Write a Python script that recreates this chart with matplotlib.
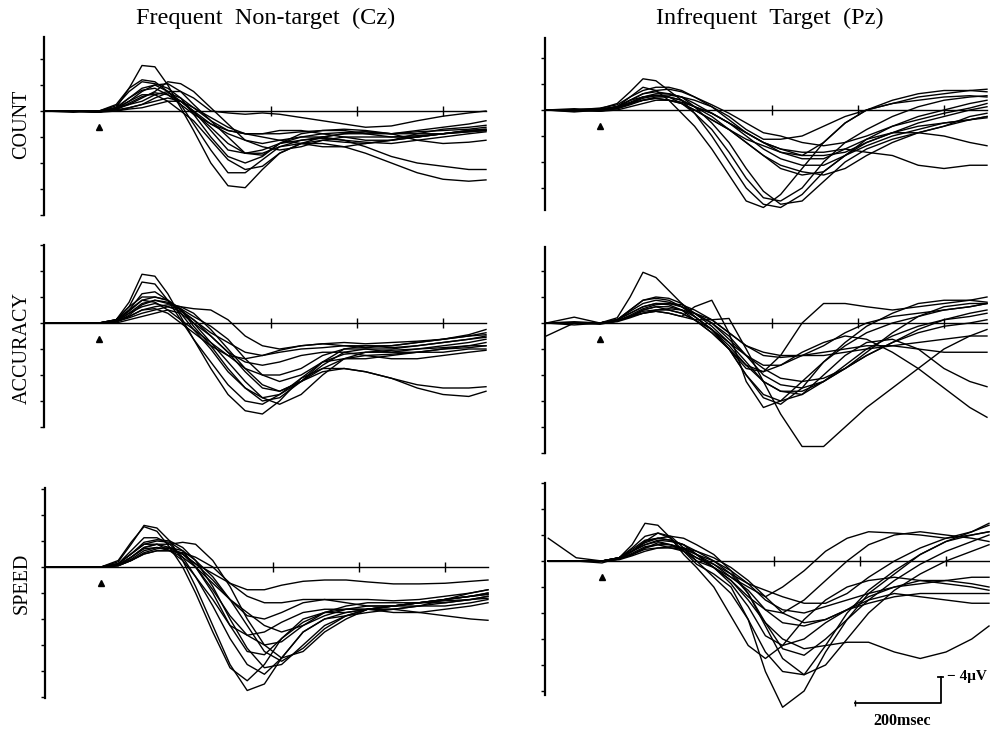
import matplotlib
matplotlib.use("Agg")
import matplotlib.pyplot as plt

W, H = 1001, 729

# sample times (ms from stimulus) shared by every trace
times = [-125, -60, 0, 40, 70, 100, 130, 160, 190, 220, 260, 300,
         340, 380, 420, 470, 520, 570, 620, 680, 740, 800, 860, 900]

# amplitudes in uV, one list per subject (negative is drawn up)
count_cz = [
    [0, 0, 0.2, -0.5, -3.5, -7, -6.8, -4, -0.5, 3, 8, 11.5, 11.8, 9, 6.5, 5, 4.5, 4.8, 5, 4.5, 4, 3.5, 3.2, 3],
    [0, 0, 0, -1, -3.5, -4.8, -4.5, -3, -1, 2, 6, 9.5, 9.5, 7.5, 5.5, 5, 5, 5.5, 6.5, 8, 9.5, 10.5, 10.8, 10.6],
    [0, 0.2, 0, -0.8, -3, -4.5, -4.2, -3.5, -2, 0.5, 4, 7, 8, 7, 5, 4, 4, 4.5, 5.5, 7, 8, 8.5, 9, 9],
    [0, 0, 0.1, -0.5, -2, -3.5, -4, -3, -1.5, 0, 3, 6, 6.5, 6, 5, 4.5, 4, 3.5, 3.5, 4, 4, 3.5, 3, 2.8],
    [0, 0, 0, -0.3, -1.5, -3, -4, -4.2, -3, -1, 1.5, 4, 6.5, 6.8, 5, 3.5, 3, 3, 3.5, 3.5, 3.2, 3, 2.8, 2.5],
    [0, 0, 0.2, -0.5, -1, -2, -3, -4.5, -4.2, -3, -0.5, 2, 4.5, 5.5, 6, 5.5, 4.5, 4, 4, 4, 3.8, 3.5, 3, 2.8],
    [0, 0, 0, -0.3, -1, -1.5, -2.5, -3, -3, -2, 0, 0.3, 0.5, 0.3, 0.5, 1, 1.5, 2, 2.5, 2.3, 1.5, 0.8, 0.3, 0],
    [0, 0, 0.1, -0.2, -0.5, -1, -2, -2.8, -2, -0.5, 1.5, 3, 3.5, 3.5, 3, 3, 3.5, 4, 4.5, 4.5, 4, 3.5, 3.2, 3],
    [0, 0, 0, 0, -0.5, -1, -1.5, -2, -1.5, 0, 2, 3.5, 4.5, 5, 4.5, 4, 3.5, 3.3, 3.2, 3.5, 4.5, 5, 4.8, 4.5],
    [0, 0, 0.2, 0, -0.3, -0.5, -1, -1.5, -1.5, -0.5, 1, 2.5, 3.5, 4, 4.5, 5, 5.5, 5.5, 5, 4.5, 3.5, 2.8, 2.5, 2.2],
    [0, 0, 0, -0.5, -2, -3.2, -3.5, -2.5, -1, 0.5, 2, 3, 3.5, 3.5, 3.5, 3.2, 3, 2.8, 3, 3.5, 3.5, 3.5, 3, 3],
    [0, 0, 0.1, -0.5, -1.5, -2.5, -2.5, -1.5, 0, 1.5, 4.5, 7.5, 9, 8.5, 6.5, 5, 4, 3.5, 3.2, 3.5, 3, 2.5, 2, 1.5],
    [0, 0, 0, -0.2, -1.2, -2.2, -2.8, -2.5, -1.5, 0.2, 2.5, 5, 6.5, 6.5, 5.5, 4.5, 4.2, 4.5, 4.8, 5, 4.5, 4, 3.5, 3.2],
]

count_pz = [
    [0, 0.2, 0, -0.5, -2, -3.5, -3, -1.5, 0.5, 2.5, 6, 10, 14, 15, 13, 9, 5, 2, 0, -1, -2, -2.5, -3, -3.2],
    [0, 0, -0.2, -1, -2.8, -4.8, -4.5, -3, -1.5, 0.5, 4, 8, 12, 14.5, 15, 13, 9.5, 7, 5.5, 4, 3, 2, 1.5, 1],
    [0, 0, 0, -0.5, -1.5, -2.5, -2.8, -2.5, -2, -0.5, 2, 5, 9, 12.5, 14.5, 14, 11, 8, 6, 4.5, 3.5, 2.5, 1, 0.5],
    [0, -0.2, 0, -0.5, -1, -2, -2.2, -2, -1, 0, 1.5, 3, 5, 7, 9, 10, 9.5, 7, 4.5, 2.5, 1, 0, -1, -1.5],
    [0, 0, 0.2, -0.3, -1, -1.5, -2, -2, -1.5, -0.5, 1, 3, 5, 7, 8.5, 9.5, 10, 9, 7, 5, 3.5, 2.5, 1.5, 1],
    [0, 0, 0, -0.5, -1.5, -2, -2.3, -2, -1.5, -0.5, 0.5, 2, 3.5, 5, 6.5, 7.5, 7.5, 6, 4.5, 3.5, 3.5, 4, 5, 5.5],
    [0, 0.3, 0, -0.2, -0.8, -1.5, -1.8, -1.5, -1, 0, 1.5, 3, 4.5, 5.5, 6.5, 7, 5, 2, 0, -1.5, -2.5, -3, -3, -2.8],
    [0, 0, -0.3, -0.8, -2, -3, -3.5, -3.5, -3, -2, -0.5, 1.5, 3.5, 5, 6, 6.5, 6.5, 6, 6.5, 7, 8.5, 9, 8.5, 8.5],
    [0, 0, 0, -0.3, -1, -1.8, -2.2, -2.3, -2, -1.5, -0.5, 1, 3, 4.5, 4.5, 4, 2.5, 1, 0, -1, -1.5, -2, -2.2, -2],
    [0, 0, 0.2, 0, -0.5, -1, -1.5, -1.5, -1.2, -0.5, 0.5, 2, 3.5, 5, 6, 7, 7, 6.5, 5, 3.5, 2, 1, 0, -0.5],
    [0, 0, 0, -0.5, -1.5, -2.5, -3, -3.2, -2.8, -2, -0.8, 0.5, 2, 3.5, 4, 5, 5.5, 5, 4, 2.5, 1.5, 0.5, -0.3, -1],
    [0, 0, 0, -0.2, -1, -1.5, -1.8, -1.5, -1, 0.5, 3, 6.5, 10.5, 13.5, 14, 12, 8, 5, 3, 1, -0.5, -1.5, -2, -2.2],
    [0, 0, -0.2, -0.5, -1.2, -2, -2.5, -2.5, -2, -1, 0.5, 2, 4, 6, 7.5, 8.5, 8.5, 7, 5, 3.5, 2.5, 2, 1.5, 1.2],
]

accuracy_cz = [
    [0, 0, 0, -0.5, -3.2, -7.5, -7.2, -4.5, -1, 2.5, 7, 11, 13.5, 14, 12, 8.5, 6, 5.5, 5.5, 5, 4.5, 4, 3.5, 3],
    [0, 0, 0, -0.5, -2.5, -6.3, -6, -3.5, -0.5, 2.5, 6, 9.5, 12, 12.5, 11, 8.5, 7, 7, 7.5, 8.5, 10, 11, 11.3, 10.5],
    [0, 0, 0, -0.3, -2, -4.5, -4.8, -3.5, -1.5, 1, 4, 7.5, 10, 11.5, 11, 9, 7.5, 7, 7.5, 8.5, 9.5, 10, 10, 9.8],
    [0, 0, 0, -0.5, -2.5, -4, -4, -3.5, -2, 0, 3, 6, 9, 11.5, 12.5, 11, 8, 5.5, 4.5, 4.5, 4, 3.5, 3, 2.5],
    [0, 0, 0, -0.2, -1.5, -3, -3.5, -3, -2.5, -1.5, 1, 4, 7, 9.5, 10.5, 9, 6.5, 4.5, 4, 4, 3.5, 3, 2.5, 2],
    [0, 0, 0, -0.5, -2, -3.5, -3.2, -2, -0.5, 1, 3, 5, 7, 8, 8, 7, 5, 4, 4, 4.5, 4.5, 4, 3.8, 3.5],
    [0, 0, 0, -0.2, -1, -2, -2.5, -2.8, -2.5, -2.2, -2, -0.5, 2, 3.5, 4, 3.5, 3.2, 3, 3.2, 3, 2.8, 2.5, 2, 1.5],
    [0, 0, 0, -0.3, -1.5, -2.5, -3, -2.5, -1.8, -0.5, 1.5, 3, 4.5, 5, 4.5, 4, 3.8, 3.5, 3.5, 3.8, 3.5, 3, 2.5, 2.2],
    [0, 0, 0, -0.2, -0.8, -1.5, -2, -2.5, -2.2, -1, 0.5, 2.5, 5.5, 8, 9, 8, 6, 4.8, 4.5, 4.2, 4, 3.8, 3.5, 3.5],
    [0, 0, 0, 0, -0.5, -1, -1.5, -2, -1.5, 0, 2, 4.5, 7.5, 10, 10.5, 9, 7, 5.5, 5, 4.8, 4.5, 4.5, 4, 4],
    [0, 0, 0, -0.2, -1, -2, -2.2, -1.5, 0, 1.5, 3.5, 5, 5.5, 5, 4.2, 3.5, 3.2, 3.5, 3.8, 3.5, 3, 2.5, 1.8, 1],
    [0, 0, 0, -0.3, -1.8, -3.5, -4, -3.5, -2.2, 0.5, 3.5, 7, 10, 12, 11.5, 9, 6, 4, 3.5, 3.5, 3, 2.5, 2, 1.8],
    [0, 0, 0, -0.2, -1.2, -2.8, -3.5, -3.2, -2, -0.5, 2, 4.5, 6, 6.5, 6, 5, 4.5, 4.5, 5, 5.5, 5.5, 5, 4.5, 4.2],
]

accuracy_pz = [
    [0, 0.3, 0, -0.8, -4, -7.8, -7, -5, -3, -1, 1, 4, 8, 11, 12, 11, 9, 7, 5, 3, 1.5, 0.5, 0, -0.5],
    [0, 0, 0.2, -0.3, -1, -1.5, -1.8, -1.5, -1, -2.5, -3.5, 1.5, 9, 13, 12, 9, 6, 3.5, 1.5, 0, -1, -2, -2.5, -3],
    [0, 0, 0, -0.3, -1, -1.5, -1.8, -1.5, -1, -0.5, -0.5, -0.7, 4, 9, 14, 19, 19, 16, 13, 10, 7, 4, 2, 1],
    [0, 0, 0, -0.5, -2, -3.5, -3.8, -3.5, -2.5, -1, 1, 4, 8, 11.5, 12.5, 10, 6, 3, 0.5, -1.5, -3, -3.5, -3.5, -3.2],
    [0, -0.2, 0, -0.5, -1.5, -2.5, -3, -3, -2.5, -1.5, 0, 2, 5, 8, 9.5, 10, 9, 7, 4.5, 1.5, -1, -2.5, -3, -3],
    [0, 0, 0, -0.3, -1, -2, -2.5, -2, -1.5, -0.5, 1.5, 4, 7, 7.5, 5, 0, -3, -3, -2.5, -2, -2.5, -3, -3.5, -4],
    [0, 0, 0, -0.5, -1.8, -3, -3.5, -3.2, -2.5, -1.5, 0, 2.5, 5, 6.5, 6.5, 5, 3.5, 1.5, 0, -1, -1.5, -2, -2.5, -3],
    [0, 0, 0, -0.5, -1.5, -2.5, -3, -2.8, -2, -0.5, 1.5, 4, 6.5, 7.5, 6.5, 4.5, 3, 2, 2.5, 4.5, 7, 10, 13, 14.5],
    [0, 0, 0, -0.3, -1, -2, -2.5, -2.5, -2, -1, 1, 3.5, 6.5, 9, 10.5, 11, 8, 5, 3, 2.5, 4, 7, 9, 9.8],
    [2, 0, 0, -0.3, -1, -1.8, -2, -2, -1.5, -0.5, 1, 3, 5, 7, 8.5, 9, 8.5, 7, 5, 3, 1, -0.5, -1.5, -2],
    [0, -0.9, 0, -0.2, -0.8, -1.5, -2, -2.2, -2, -1.5, -0.5, 1.5, 3.5, 4.5, 5, 5, 5, 4.5, 4, 3.5, 3, 2.5, 2, 2],
    [0, 0, 0, -0.5, -2, -3.5, -4, -3.8, -3, -1.5, 0.5, 3, 6, 9, 10.5, 10.5, 9, 6.5, 4, 2, 0.5, -0.5, -1, -1.5],
    [0, 0, 0, -0.3, -1.2, -2.2, -2.8, -3, -2.8, -2, -0.5, 1.5, 3.5, 5, 5.3, 5, 4.5, 4, 3.5, 3.5, 4, 4.5, 4.5, 4.5],
]

speed_cz = [
    [0, 0, 0, -0.8, -3.5, -6.4, -6, -4, -1, 3, 9, 15, 19, 18, 14, 10, 8, 7.5, 7, 6.5, 6, 5, 4, 3.5],
    [0, 0, 0, -1, -3.8, -6.2, -5.5, -3, 0, 4, 10, 15.5, 17.5, 15, 11, 8, 7, 7, 6.5, 6.5, 6, 5.5, 5, 4.5],
    [0, 0, 0, -0.5, -2.5, -4.5, -4.5, -3.5, -1.5, 1.5, 6, 11, 15, 16.5, 14, 10, 8, 7, 6.5, 6, 5.5, 5, 4.5, 4],
    [0, 0, 0, -0.5, -2, -3.8, -4.2, -4, -3, -1, 3, 8, 12.5, 15.5, 15, 12, 9, 7.5, 6.5, 6, 5.5, 5, 4.5, 4.2],
    [0, 0, 0, -0.3, -1.5, -3, -3.5, -3.5, -3.8, -3.5, -1, 3, 8, 12, 14, 13, 10, 8, 6.5, 6, 5.5, 5.5, 5, 4.5],
    [0, 0, 0, -0.5, -2, -3.5, -3.5, -2.5, -1, 1.5, 5, 9, 10.5, 10, 8.5, 7, 6.5, 6.5, 6.5, 6.5, 7, 7.5, 8, 8.2],
    [0, 0, 0, -0.3, -1.5, -2.8, -3, -2.5, -1.5, 0, 2.5, 5, 7, 9, 10, 9, 7.5, 6.5, 6, 6, 5.5, 5, 4.5, 4.2],
    [0, 0, 0, -0.2, -1, -2, -2.5, -2.5, -2, -0.5, 2, 5, 7.5, 8, 7, 5.5, 5, 5, 5, 5.2, 5, 4.5, 4, 3.5],
    [0, 0, 0, -0.3, -1.2, -2.5, -3, -2.8, -2, -0.5, 1, 2.5, 3.5, 3.5, 2.8, 2.2, 2, 2, 2.3, 2.6, 2.6, 2.5, 2.2, 2],
    [0, 0, 0, -0.3, -1.5, -3, -3.5, -3, -2, 0, 3.5, 7.5, 10.5, 12, 11.5, 9, 7, 6, 5.5, 5.5, 5.5, 5.2, 5, 4.8],
    [0, 0, 0, -0.2, -1, -2.2, -2.8, -3, -2.5, -1, 1.5, 5, 9, 13, 14.5, 12.5, 9.5, 7.5, 6.5, 6, 6, 6, 5.5, 5],
    [0, 0, 0, -0.5, -2, -3.5, -4, -3.8, -2.5, 0, 4, 9, 13, 13.5, 11, 8.5, 7, 6.5, 6.5, 7, 7, 6.5, 6, 5.5],
    [0, 0, 0, -0.2, -1, -2, -2.5, -2.5, -2.2, -1.5, 0, 2.5, 4.5, 5.5, 5.5, 5, 5, 5.5, 6, 6, 5.5, 5, 4.5, 4],
]

speed_pz = [
    [-3.5, -0.5, 0, -0.5, -1.5, -2.5, -3, -2.5, -1.5, 0, 1, 3, 5.5, 7.5, 8, 6, 3, 0, -2.5, -4, -4.5, -4, -3.5, -3],
    [0, 0, 0.3, -0.5, -1.5, -3, -4.3, -3.5, -1.5, 0.5, 2, 4, 9, 17, 22.5, 20, 14, 9, 5, 2, -1, -3, -4, -4.5],
    [0, 0, 0, -0.5, -2.5, -5.8, -5.5, -3.5, -1, 1, 4, 8.5, 13, 15, 13, 9, 6, 4, 3, 2.5, 3, 3.5, 4, 4.5],
    [0, 0, 0, -0.5, -2, -3.8, -4.3, -3.8, -2, 0, 2.5, 5, 9, 14, 17, 17.5, 13, 8, 4.5, 1.5, -1, -3, -4.5, -5.5],
    [0, 0, 0, -0.3, -1.5, -3, -3.5, -3.2, -2.5, -1, 1, 3, 6, 9.5, 12, 13.5, 13, 12.5, 12.5, 14, 15, 14, 12, 10],
    [0, 0, 0, -0.5, -1.5, -2.5, -3.2, -3, -2.5, -1.5, 0, 2, 5, 9.5, 13.5, 14.5, 12, 9, 6, 3, 0.5, -1.5, -3, -4],
    [0, 0, 0, -0.3, -1, -2, -2.5, -2, -1.5, -0.5, 0.5, 2.5, 4.5, 7.5, 9.5, 10, 9, 7.5, 5.5, 4, 3, 3, 3.5, 4],
    [0, 0, 0, -0.3, -1.2, -2.2, -2.5, -2.5, -2, -1, 0.5, 2, 3.5, 4.5, 5.5, 6.5, 6.5, 5, 2.5, 0, -2, -3.5, -4, -4.5],
    [0, 0, 0, -0.3, -1, -2, -2.8, -2.5, -1.8, -0.5, 1, 2.5, 4, 5.5, 4, 1.5, -1.5, -3.5, -4.5, -4.3, -4, -3.5, -4.5, -5.8],
    [0, 0, 0, -0.5, -1.8, -3.2, -3.5, -3.2, -2.5, -1, 1, 3.5, 7, 11.5, 13, 12, 9.5, 7.5, 6.5, 5.5, 5, 5, 5, 5],
    [0, 0, 0, -0.2, -0.8, -1.5, -2, -2.2, -2, -1.5, -0.5, 1, 3, 5.5, 8, 9.5, 9, 7.5, 6, 5, 5.5, 6, 6.5, 6.5],
    [0, 0, 0, -0.3, -1, -1.8, -2, -2, -1.8, -1, 0, 1.5, 3.5, 6, 7.5, 8, 7, 6, 5, 4, 3.5, 3, 2.5, 2.5],
    [0, 0, 0, -0.5, -1.5, -2.8, -3.5, -3.8, -3.5, -2.5, -1, 1.5, 5, 10, 15, 17.5, 16, 12, 8, 4.5, 2, 0, -1.5, -2.5],
]

column_titles = ["Frequent  Non-target  (Cz)", "Infrequent  Target  (Pz)"]
row_labels = ["COUNT", "ACCURACY", "SPEED"]
baseline_ticks = [400, 600, 800]
scale_ms, scale_uv = 200, 4

# panel placement in pixels: axis x, stimulus x, trace end x, top, baseline, bottom
panels = [
    (count_cz, (44, 99, 487, 37, 111, 215)),
    (count_pz, (545, 600, 987, 38, 110, 210)),
    (accuracy_cz, (44, 99, 487, 245, 323, 427)),
    (accuracy_pz, (545, 600, 987, 247, 323, 453)),
    (speed_cz, (45, 101, 487, 488, 567, 698)),
    (speed_pz, (545, 602, 987, 483, 561, 695)),
]
PX_MS = 0.43   # pixels per ms
PX_UV = 6.5    # pixels per uV

serif = "Liberation Serif"
fig = plt.figure(figsize=(W / 100, H / 100), dpi=100)

for idx, (traces, (ax_x, on_x, end_x, top_y, base_y, bot_y)) in enumerate(panels):
    right = end_x + 3
    low = bot_y + 25
    ax = fig.add_axes([ax_x / W, 1 - low / H, (right - ax_x) / W, (low - top_y) / H])
    ax.set_xlim((ax_x - on_x) / PX_MS, (right - on_x) / PX_MS)
    top_uv = (top_y - base_y) / PX_UV
    ax.set_ylim((low - base_y) / PX_UV, top_uv)
    spine_bot = (bot_y - base_y) / PX_UV

    for tr in traces:
        ax.plot(times, tr, color="black", lw=1.0, solid_joinstyle="round")

    # baseline with time marks and stimulus marker
    ax.plot([times[0], times[-1]], [0, 0], color="black", lw=1.0)
    ax.plot(baseline_ticks, [0] * len(baseline_ticks), ls="none", marker="|",
            ms=7, mew=1.0, color="black")
    ax.plot([0], [2.5], marker="^", ms=5, color="black", ls="none")

    for s in ["top", "right", "bottom"]:
        ax.spines[s].set_visible(False)
    ax.spines["left"].set_bounds(top_uv, spine_bot)
    ax.spines["left"].set_linewidth(1.6)
    ax.set_xticks([])
    ax.set_yticks([v for v in range(-12, 25, 4) if top_uv <= v <= spine_bot])
    ax.tick_params(axis="y", direction="out", length=3, width=1, labelleft=False)
    ax.patch.set_visible(False)

    # calibration bar on last panel
    if idx == 5:
        x0, x1 = 588, 588 + scale_ms
        y0 = 21.8
        ax.plot([x0, x1, x1], [y0, y0, y0 - scale_uv], color="black", lw=1.3, clip_on=False)
        ax.plot([x0], [y0], marker="|", ms=5, color="black", clip_on=False)
        ax.plot([x1 - 6, x1 + 6], [y0 - scale_uv] * 2, color="black", lw=1.3, clip_on=False)
        ax.text(x1 + 14, y0 - scale_uv, "\u2212 4\u03bcV", ha="left", va="center",
                family=serif, fontsize=11, fontweight="bold")
        ax.text((x0 + x1) / 2 + 10, y0 + 2.8, "200msec", ha="center", va="center",
                family=serif, fontsize=11.5, fontweight="bold")

fig.text(266 / W, 1 - 18 / H, column_titles[0], ha="center", va="center",
         family=serif, fontsize=17.5)
fig.text(770 / W, 1 - 18 / H, column_titles[1], ha="center", va="center",
         family=serif, fontsize=17.5)
for lab, yc in zip(row_labels, [124, 348, 583]):
    fig.text(22 / W, 1 - yc / H, lab, rotation=90, ha="center", va="center",
             family=serif, fontsize=14.5)

fig.savefig("out.png", dpi=100)
